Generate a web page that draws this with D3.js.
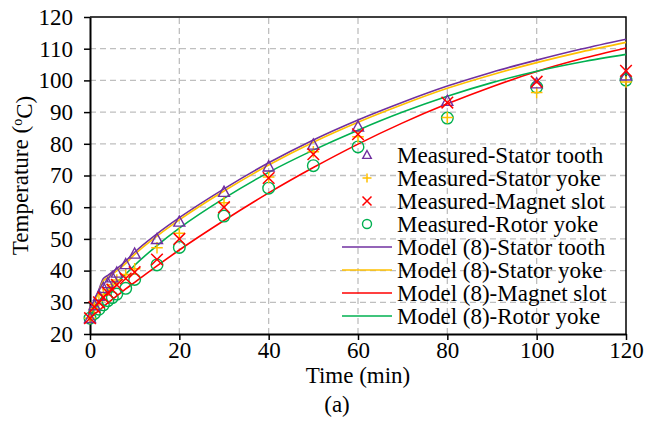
<!DOCTYPE html>
<html>
<head>
<meta charset="utf-8">
<script src="https://cdn.jsdelivr.net/npm/d3@7"></script>
<style>
  body { margin: 0; background: #fff; }
  text { font-family: "Liberation Serif", "Times New Roman", serif; fill: #000; }
</style>
</head>
<body>
<div id="chart"></div>
<script>
// measured points (min, degC)
const measTime = [0, 1, 2, 3, 4, 5, 6, 8, 10, 15, 20, 30, 40, 50, 60, 80, 100, 120];
const measTooth = [25, 29, 32, 34.5, 36, 37.8, 39.3, 42, 45.3, 49.9, 55.4, 64.8, 72.8, 79.7, 85.4, 93.5, 99, 101.5];
const measYoke = [25, 28, 30.5, 32.5, 34, 35.5, 37, 38.8, 40.6, 47.2, 51.8, 61.4, 69.5, 77.5, 82.2, 88.3, 96.2, 99.5];
const measMagnet = [25, 28.5, 30, 31.5, 33, 34, 35.5, 37.5, 39.5, 43.5, 50, 60, 69.2, 76.7, 83, 93, 99.6, 103];
const measRotor = [25, 26.5, 27.8, 29.2, 30.5, 31.5, 32.6, 34.4, 37.2, 41.8, 47.3, 57.2, 66, 73.1, 79, 88.1, 97.9, 100.1];

// model (8) curves
const modelTime = [0, 1, 2, 3, 4, 5, 6, 8, 10, 15, 20, 30, 40, 50, 60, 70, 80, 90, 100, 110, 120];
const modelTooth = [25, 30, 34, 37.5, 38.5, 39.6, 40.6, 43, 45.8, 51.6, 56.7, 65.8, 74, 81.2, 87.5, 93.1, 98.2, 102.6, 106.4, 109.9, 113];
const modelYoke = [25, 29.6, 33.5, 36.8, 37.8, 38.9, 39.9, 42.3, 45.1, 50.9, 56, 65.1, 73.3, 80.5, 86.8, 92.4, 97.5, 101.8, 105.6, 109, 112];
const modelMagnet = [25, 26.2, 27.4, 28.6, 29.8, 30.9, 32, 34.2, 36.3, 41.5, 46.5, 55.8, 64.5, 72.5, 79.9, 86.6, 92.6, 98, 102.8, 106.8, 110.2];
const modelRotor = [25, 27.8, 30.2, 32.2, 33.8, 35.2, 36.4, 38.9, 41.7, 47.9, 53.4, 62.8, 71, 78, 84.3, 90, 95, 99.3, 102.9, 105.8, 108.2];

const xTicks = [0, 20, 40, 60, 80, 100, 120];
const yTicks = [20, 30, 40, 50, 60, 70, 80, 90, 100, 110, 120];

const measNames = ["Measured-Stator tooth", "Measured-Stator yoke", "Measured-Magnet slot", "Measured-Rotor yoke"];
const modelNames = ["Model (8)-Stator tooth", "Model (8)-Stator yoke", "Model (8)-Magnet slot", "Model (8)-Rotor yoke"];
const colors = ["#7030a0", "#ffc000", "#ff0000", "#00b050"];
const shapes = ["triangle", "plus", "cross", "circle"];

const width = 662, height = 424;
const marginTop = 17, marginRight = 36, marginBottom = 90, marginLeft = 90;
const fontSize = "23px";

const svg = d3.select("#chart").append("svg")
  .attr("width", width)
  .attr("height", height);

const x = d3.scaleLinear().domain([0, 120]).range([marginLeft, width - marginRight]);
const y = d3.scaleLinear().domain([20, 120]).range([height - marginBottom, marginTop]);

// grid
svg.append("g")
  .selectAll("line")
  .data(xTicks.slice(1, -1))
  .join("line")
  .attr("x1", d => x(d)).attr("x2", d => x(d))
  .attr("y1", y(20)).attr("y2", y(120))
  .attr("stroke", "#bfbfbf").attr("stroke-width", 1.3).attr("stroke-dasharray", "6,4");

svg.append("g")
  .selectAll("line")
  .data(yTicks.slice(1, -1))
  .join("line")
  .attr("x1", x(0)).attr("x2", x(120))
  .attr("y1", d => y(d)).attr("y2", d => y(d))
  .attr("stroke", "#bfbfbf").attr("stroke-width", 1.3).attr("stroke-dasharray", "6,4");

// axes
const xAxis = svg.append("g")
  .attr("transform", `translate(0,${y(20)})`)
  .call(d3.axisBottom(x).tickValues(xTicks).tickSize(6).tickPadding(2).tickSizeOuter(0));
const yAxis = svg.append("g")
  .attr("transform", `translate(${x(0)},0)`)
  .call(d3.axisLeft(y).tickValues(yTicks).tickSize(6).tickPadding(11).tickSizeOuter(0));

[xAxis, yAxis].forEach(a => {
  a.select(".domain").attr("stroke", "#000").attr("stroke-width", 2);
  a.selectAll(".tick line").attr("stroke", "#000").attr("stroke-width", 1.5);
  a.selectAll(".tick text")
    .style("font-family", '"Liberation Serif", serif')
    .style("font-size", fontSize)
    .attr("fill", "#000");
});

// top and right frame
svg.append("path")
  .attr("d", `M${x(0)},${y(120)}H${x(120)}V${y(20)}`)
  .attr("fill", "none").attr("stroke", "#000").attr("stroke-width", 1.5);

// model lines
const modelSeries = [modelTooth, modelYoke, modelMagnet, modelRotor];
const line = d3.line()
  .x((d, i) => x(modelTime[i]))
  .y(d => y(d))
  .curve(d3.curveMonotoneX);

svg.append("g")
  .selectAll("path")
  .data(modelSeries)
  .join("path")
  .attr("d", line)
  .attr("fill", "none")
  .attr("stroke", (d, i) => colors[i])
  .attr("stroke-width", 1.6);

// marker drawing
function marker(g, shape, color, s) {
  if (shape === "triangle") {
    g.append("path")
      .attr("d", `M0,${-s}L${s * 0.95},${s * 0.75}L${-s * 0.95},${s * 0.75}Z`)
      .attr("fill", "none").attr("stroke", color).attr("stroke-width", 1.4);
  } else if (shape === "plus") {
    g.append("path")
      .attr("d", `M${-s},0H${s}M0,${-s}V${s}`)
      .attr("stroke", color).attr("stroke-width", 1.5);
  } else if (shape === "cross") {
    g.append("path")
      .attr("d", `M${-s},${-s}L${s},${s}M${-s},${s}L${s},${-s}`)
      .attr("stroke", color).attr("stroke-width", 1.5);
  } else {
    g.append("circle")
      .attr("r", s)
      .attr("fill", "none").attr("stroke", color).attr("stroke-width", 1.4);
  }
}

// measured points
const measSeries = [measTooth, measYoke, measMagnet, measRotor];
const drawOrder = [3, 1, 0, 2];
drawOrder.forEach(k => {
  svg.append("g")
    .selectAll("g")
    .data(measSeries[k])
    .join("g")
    .attr("transform", (d, i) => `translate(${x(measTime[i])},${y(d)})`)
    .each(function () { marker(d3.select(this), shapes[k], colors[k], 5.8); });
});

// legend
const legend = svg.append("g").attr("transform", "translate(342,155)");
const rowH = 23;
measNames.forEach((name, i) => {
  const row = legend.append("g").attr("transform", `translate(0,${i * rowH})`);
  marker(row.append("g").attr("transform", "translate(25,0)"), shapes[i], colors[i], 4.5);
  row.append("text").attr("x", 55).attr("dy", "0.35em")
    .style("font-size", fontSize).text(name);
});
modelNames.forEach((name, i) => {
  const row = legend.append("g").attr("transform", `translate(0,${(i + 4) * rowH})`);
  row.append("line").attr("x1", 0).attr("x2", 50)
    .attr("stroke", colors[i]).attr("stroke-width", 1.6);
  row.append("text").attr("x", 55).attr("dy", "0.35em")
    .style("font-size", fontSize).text(name);
});

// axis titles
svg.append("text")
  .attr("x", x(60)).attr("y", 383)
  .attr("text-anchor", "middle")
  .style("font-size", fontSize)
  .text("Time (min)");

const yTitle = svg.append("text")
  .attr("transform", `translate(28,${(y(20) + y(120)) / 2}) rotate(-90)`)
  .attr("text-anchor", "middle")
  .style("font-size", fontSize);
yTitle.append("tspan").text("Temperature (");
yTitle.append("tspan").attr("dy", "-0.4em").style("font-size", "14px").text("o");
yTitle.append("tspan").attr("dy", "0.4em").text("C)");

svg.append("text")
  .attr("x", 337).attr("y", 412)
  .attr("text-anchor", "middle")
  .style("font-size", fontSize)
  .text("(a)");
</script>
</body>
</html>
